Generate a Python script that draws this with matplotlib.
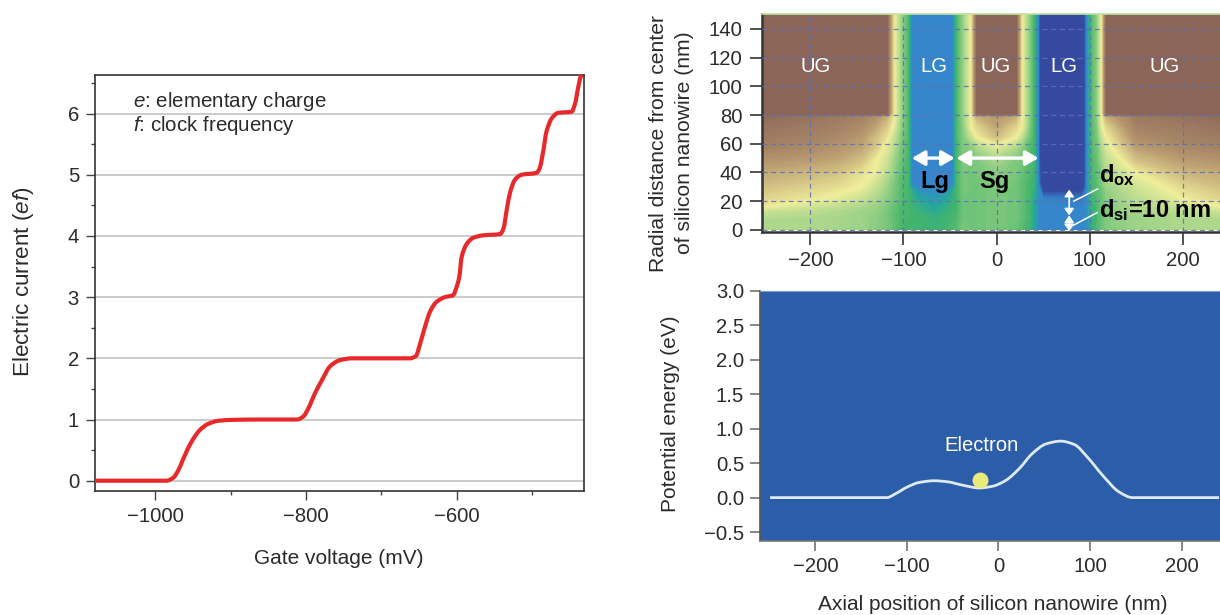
import numpy as np
import matplotlib
matplotlib.use('Agg')
import matplotlib.pyplot as plt
from matplotlib.colors import LinearSegmentedColormap
from matplotlib.path import Path
from matplotlib.patches import PathPatch

plt.rcParams['font.family'] = ['Liberation Sans', 'DejaVu Sans']
plt.rcParams['mathtext.fontset'] = 'custom'
plt.rcParams['mathtext.rm'] = 'Liberation Sans'
plt.rcParams['mathtext.it'] = 'Liberation Sans:italic'
plt.rcParams['mathtext.bf'] = 'Liberation Sans:bold'

# left panel: staircase current
gate_mv = [-1080, -985, -976, -969.5, -960.6, -951.8, -940.7, -929.6, -916, -896, -861, -812,
           -803.5, -797, -788, -779, -768, -755, -739, -702, -662, -654, -649, -642, -635.5,
           -627, -615.6, -605, -600, -596.6, -593.4, -586.7, -578, -565, -542.5, -538, -533.7,
           -529, -522.6, -513.9, -494, -489.6, -485, -481, -474, -465.7, -447.5, -443, -438.6, -435]
current_ef = [0, 0, 0.05, 0.17, 0.42, 0.64, 0.83, 0.93, 0.98, 0.995, 1, 1,
              1.05, 1.18, 1.43, 1.64, 1.87, 1.97, 2, 2, 2, 2.04, 2.22, 2.52, 2.76,
              2.92, 3, 3.03, 3.17, 3.33, 3.66, 3.87, 3.97, 4.01, 4.03, 4.12, 4.42,
              4.72, 4.92, 5, 5.03, 5.12, 5.4, 5.7, 5.92, 6.01, 6.03, 6.16, 6.44, 6.61]

# top right panel: potential map, 0 dark blue ... 90 brown
map_x = [-252, -200, -170, -145, -130, -118, -110, -103, -95, -91, -85, -67, -52, -47, -43, -35,
         -27, -21, 0, 21, 27, 35, 40, 46, 50, 92, 97, 101, 108, 113, 118, 150, 200, 240]
map_y = [0, 8, 13, 17, 22, 29, 31, 40, 50, 58, 65, 72, 79, 81, 100, 151]
map_values = [
    [52, 52, 51, 50, 48, 46, 43, 40, 40, 40, 39, 38, 40, 41, 42, 46, 45, 45, 46, 44, 42, 39, 28, 18, 18, 18, 20, 32, 41, 44, 47, 50, 52, 52],
    [52, 52, 51, 50, 48, 46, 43, 41, 40, 39, 39, 36, 39, 40, 41, 45, 45, 45, 46, 45, 43, 40, 30, 18, 18, 18, 20, 34, 41, 44, 47, 50, 52, 52],
    [56, 54, 52, 50, 49, 46, 43, 41, 40, 39, 37, 31, 37, 39, 40, 45, 45, 45, 46, 45, 43, 40, 30, 18, 18, 18, 20, 35, 41, 44, 47, 51, 54, 56],
    [63, 58, 55, 52, 50, 47, 44, 41, 40, 38, 35, 28, 35, 38, 40, 45, 45, 45, 46, 45, 43, 40, 30, 18, 18, 17, 19, 36, 41, 44, 47, 52, 57, 62],
    [66, 63, 60, 56, 52, 48, 45, 42, 40, 36, 30, 24, 30, 36, 40, 45, 45, 45, 46, 45, 43, 40, 32, 18, 17, 16, 18, 38, 42, 44, 48, 54, 62, 66],
    [69, 66, 64, 61, 55, 50, 46, 42, 40, 30, 20, 18, 20, 30, 40, 46, 45, 45, 46, 45, 43, 40, 36, 18, 4, 5, 18, 40, 42, 45, 49, 56, 65, 69],
    [70, 67, 65, 62, 56, 50, 46, 42, 40, 18, 18, 18, 18, 18, 40, 46, 45, 45, 47, 45, 43, 40, 38, 14, 0, 0, 18, 40, 42, 46, 50, 57, 66, 70],
    [73, 71, 69, 64, 61, 54, 48, 43, 40, 18, 18, 18, 18, 18, 40, 46, 45, 46, 48, 46, 44, 41, 39, 12, 0, 0, 18, 40, 43, 47, 52, 62, 71, 73],
    [78, 76, 74, 70, 63, 57, 50, 45, 40, 18, 18, 18, 18, 18, 40, 47, 46, 47, 52, 47, 46, 41, 40, 10, 0, 0, 18, 40, 44, 50, 55, 70, 76, 78],
    [82, 80, 77, 74, 68, 60, 53, 46, 41, 18, 18, 18, 18, 18, 40, 47, 48, 52, 60, 52, 48, 42, 40, 10, 0, 0, 18, 40, 45, 52, 59, 75, 80, 82],
    [84, 82, 80, 76, 70, 64, 55, 47, 41, 18, 18, 18, 18, 18, 40, 48, 55, 62, 70, 62, 55, 45, 40, 10, 0, 0, 18, 40, 46, 55, 62, 79, 82, 84],
    [86, 84, 82, 79, 74, 68, 60, 49, 41, 18, 18, 18, 18, 18, 40, 49, 62, 66, 74, 66, 62, 47, 40, 10, 0, 0, 18, 40, 47, 60, 66, 82, 84, 86],
    [88, 86, 84, 82, 78, 72, 62, 50, 41, 18, 18, 18, 18, 18, 40, 50, 62, 72, 76, 72, 62, 48, 40, 10, 0, 0, 18, 40, 48, 62, 72, 84, 86, 88],
    [90, 90, 90, 90, 90, 90, 62, 50, 41, 18, 18, 18, 18, 18, 40, 50, 62, 90, 90, 90, 62, 48, 40, 10, 0, 0, 18, 40, 48, 62, 90, 90, 90, 90],
    [90, 90, 90, 90, 90, 90, 62, 50, 41, 18, 18, 18, 18, 18, 40, 50, 62, 90, 90, 90, 62, 48, 40, 10, 0, 0, 18, 40, 48, 62, 90, 90, 90, 90],
    [90, 90, 90, 90, 90, 90, 62, 50, 41, 18, 18, 18, 18, 18, 40, 50, 62, 90, 90, 90, 62, 48, 40, 10, 0, 0, 18, 40, 48, 62, 90, 90, 90, 90],
]
map_labels = ['UG', 'LG', 'UG', 'LG', 'UG']
map_label_x = [-194, -67, -1.5, 72, 180]

# bottom right panel: potential along the wire
axial_nm = [-249.5, -122, -112, -99.5, -86.7, -70, -55.7, -39, -21, -6.5, 8, 22.6, 37, 52, 68,
            83, 97, 114, 132, 146.5, 241]
energy_ev = [0, 0, 0.06, 0.155, 0.22, 0.245, 0.23, 0.18, 0.14, 0.165, 0.25, 0.42, 0.64, 0.78, 0.82,
             0.77, 0.59, 0.32, 0.08, 0, 0]
electron_x = -20
electron_y = 0.26

W, H = 1220, 615
TICK = 14.6
LABEL = 15.0
BOLD = 17.0


def px_axes(left, top, right, bottom):
    return fig.add_axes([left / W, 1 - bottom / H, (right - left) / W, (bottom - top) / H])


def smooth_line(ax, xs, ys, **kw):
    # bezier through the read points, flat runs stay flat
    x = np.array(xs, float)
    y = np.array(ys, float)
    sec = np.diff(y) / np.diff(x)
    m = np.zeros(len(x))
    for i in range(1, len(x) - 1):
        if sec[i - 1] * sec[i] > 0:
            m[i] = 2 * sec[i - 1] * sec[i] / (sec[i - 1] + sec[i])
    verts = [(x[0], y[0])]
    codes = [Path.MOVETO]
    for i in range(len(x) - 1):
        d = (x[i + 1] - x[i]) / 3
        verts += [(x[i] + d, y[i] + m[i] * d), (x[i + 1] - d, y[i + 1] - m[i + 1] * d), (x[i + 1], y[i + 1])]
        codes += [Path.CURVE4, Path.CURVE4, Path.CURVE4]
    ax.add_patch(PathPatch(Path(verts, codes), fill=False, **kw))


fig = plt.figure(figsize=(W / 100, H / 100), dpi=100)
text_col = '#2b2b2b'

# ---- left panel
ax = px_axes(95, 75, 584.3, 491)
for v in range(0, 7):
    ax.axhline(v, color='#bdbdbd', lw=1.1, zorder=1)
smooth_line(ax, gate_mv, current_ef, edgecolor='#e8292b', lw=3.0, capstyle='round', joinstyle='round', zorder=3)
ax.set_xlim(-1080, -430.7)
ax.set_ylim(-0.168, 6.63)
ax.set_xticks([-1000, -800, -600])
ax.set_xticks([-900, -700, -500], minor=True)
ax.set_yticks(range(0, 7))
ax.set_yticks(np.arange(0.5, 6.6, 1), minor=True)
ax.tick_params(axis='both', which='major', length=6.5, width=1.0, color='#444444', labelsize=TICK, labelcolor=text_col, pad=5)
ax.tick_params(axis='both', which='minor', length=3, width=1.0, color='#444444')
for s in ax.spines.values():
    s.set_linewidth(1.2)
    s.set_color('#333333')
ax.text(-1029.6, 6.2, r'$\mathit{e}$: elementary charge', fontsize=14.8, color=text_col, va='center')
ax.text(-1029.6, 5.81, r'$\mathit{f}$: clock frequency', fontsize=14.8, color=text_col, va='center')
fig.text(339 / W, 1 - 558 / H, 'Gate voltage (mV)', fontsize=LABEL, color=text_col, ha='center', va='center')
fig.text(23 / W, 1 - 282 / H, r'Electric current ($\mathit{ef}$)', fontsize=16.2, color=text_col, rotation=90, ha='center', va='center')

# ---- top right panel
cmap = LinearSegmentedColormap.from_list('potential', [
    (0.00, '#3549a0'), (0.08, '#3549a0'), (0.18, '#3588cc'), (0.30, '#25a89a'), (0.40, '#45b56b'),
    (0.52, '#afd88c'), (0.62, '#efee9a'), (0.76, '#b8996f'), (0.90, '#8a6558'), (1.00, '#8a6558')])
ax = px_axes(762, 14, 1220, 232)
ax.contourf(map_x, map_y, np.array(map_values), levels=np.linspace(0, 90, 181), cmap=cmap, vmin=0, vmax=100, antialiased=False, zorder=1)
ax.set_xlim(-252, 240)
ax.set_ylim(-1.5, 150.4)
ax.set_xticks([-200, -100, 0, 100, 200])
ax.set_yticks(range(0, 141, 20))
ax.grid(True, color='#5f6fb8', lw=0.9, ls=(0, (4, 3)), alpha=0.85, zorder=2)
ax.set_axisbelow(False)
ax.tick_params(axis='both', length=9, width=1.2, color='#333333', labelsize=TICK, labelcolor=text_col, pad=5)
ax.spines['right'].set_visible(False)
ax.spines['top'].set_color('#bfe0a0')
ax.spines['top'].set_linewidth(1.2)
ax.spines['left'].set_linewidth(1.8)
ax.spines['left'].set_color('#333333')
ax.spines['bottom'].set_linewidth(1.8)
ax.spines['bottom'].set_color('#333333')
for name, x in zip(map_labels, map_label_x):
    ax.text(x, 113.5, name, color='white', fontsize=TICK, ha='center', va='center', zorder=5)

arrow = dict(arrowstyle='<|-|>,head_length=0.55,head_width=0.32', color='white', lw=2.4, shrinkA=0, shrinkB=0, mutation_scale=14)
ax.annotate('', xy=(-91, 50), xytext=(-45, 50), arrowprops=arrow, zorder=6)
ax.annotate('', xy=(-43, 50), xytext=(45, 50), arrowprops=arrow, zorder=6)
small = dict(arrowstyle='<|-|>,head_length=0.4,head_width=0.28', color='white', lw=1.2, shrinkA=0, shrinkB=0, mutation_scale=10)
ax.annotate('', xy=(78, 28), xytext=(78, 10), arrowprops=small, zorder=6)
ax.annotate('', xy=(78, 10), xytext=(78, -1), arrowprops=small, zorder=6)
ax.plot([83, 108.6], [20, 28.5], color='white', lw=1.1, zorder=6)
ax.plot([82, 108], [3, 12], color='white', lw=1.1, zorder=6)
ax.text(-66, 34, 'Lg', fontsize=BOLD, fontweight='bold', color='black', ha='center', va='center', zorder=7)
ax.text(-2, 34, 'Sg', fontsize=BOLD, fontweight='bold', color='black', ha='center', va='center', zorder=7)
ax.text(110, 38, r'$\mathbf{d_{ox}}$', fontsize=BOLD, color='black', ha='left', va='center', zorder=7)
ax.text(110, 14, r'$\mathbf{d_{si}}$=10 nm', fontsize=BOLD, fontweight='bold', color='black', ha='left', va='center', zorder=7)
fig.text(658 / W, 1 - 143 / H, 'Radial distance from center', fontsize=15.2, color=text_col, rotation=90, ha='center', va='center')
fig.text(684 / W, 1 - 143 / H, 'of silicon nanowire (nm)', fontsize=15.2, color=text_col, rotation=90, ha='center', va='center')

# ---- bottom right panel
ax = px_axes(760, 291, 1220, 541)
ax.set_facecolor('#2c5da9')
smooth_line(ax, axial_nm, energy_ev, edgecolor='#dfe9f2', lw=2.0, joinstyle='round', zorder=3)
ax.scatter([electron_x], [electron_y], s=132, color='#e9e97c', linewidths=0, zorder=4)
ax.text(-19, 0.75, 'Electron', color='white', fontsize=TICK, ha='center', va='center')
ax.set_xlim(-260.5, 242)
ax.set_ylim(-0.63, 3.0)
ax.set_xticks([-200, -100, 0, 100, 200])
ax.set_yticks(np.arange(-0.5, 3.01, 0.5))
ax.tick_params(axis='both', length=7.5, width=1.1, color='#666666', labelsize=TICK, labelcolor=text_col, pad=4)
ax.spines['right'].set_visible(False)
ax.spines['top'].set_color('#7f9cc8')
ax.spines['left'].set_color('#555555')
ax.spines['bottom'].set_color('#777777')
ax.spines['left'].set_linewidth(1.2)
ax.spines['bottom'].set_linewidth(1.2)
fig.text(671 / W, 1 - 414 / H, 'Potential energy (eV)', fontsize=LABEL, color=text_col, rotation=90, ha='center', va='center')
fig.text(993 / W, 1 - 604 / H, 'Axial position of silicon nanowire (nm)', fontsize=LABEL, color=text_col, ha='center', va='center')

fig.savefig('out.png', dpi=100)
